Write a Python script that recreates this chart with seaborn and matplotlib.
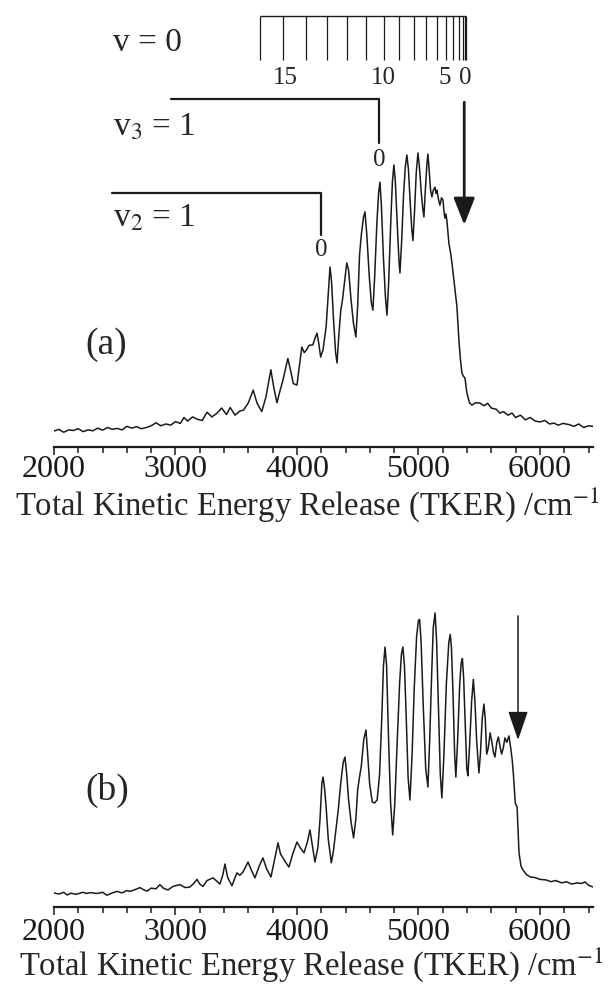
import matplotlib
matplotlib.use("Agg")
import matplotlib.pyplot as plt
from matplotlib.ticker import MultipleLocator
import seaborn as sns

# ── Data (arbitrary intensity units) ──────────────────────────────────
tker_a = [2000, 2040, 2080, 2120, 2160, 2200, 2240, 2280, 2320, 2360, 2400, 2440,
          2480, 2520, 2560, 2600, 2640, 2680, 2720, 2760, 2800, 2840, 2880, 2920,
          2960, 3000, 3040, 3070, 3100, 3140, 3180, 3220, 3260, 3300, 3340, 3380,
          3420, 3450, 3490, 3530, 3560, 3600, 3640, 3670, 3710, 3745, 3785, 3810,
          3835, 3860, 3885, 3925, 3950, 3970, 4000, 4040, 4060, 4080, 4100, 4130,
          4150, 4165, 4180, 4195, 4215, 4240, 4258, 4272, 4285, 4300, 4318, 4330,
          4345, 4360, 4375, 4392, 4410, 4425, 4445, 4465, 4485, 4500, 4515, 4530,
          4548, 4560, 4575, 4595, 4612, 4625, 4640, 4658, 4672, 4683, 4695, 4712,
          4728, 4741, 4755, 4772, 4786, 4798, 4810, 4825, 4840, 4848, 4862, 4878,
          4892, 4905, 4918, 4932, 4945, 4955, 4968, 4982, 4996, 5008, 5022, 5035,
          5045, 5058, 5070, 5078, 5088, 5100, 5111, 5122, 5136, 5145, 5152, 5165,
          5177, 5190, 5202, 5210, 5218, 5226, 5234, 5242, 5251, 5264, 5276, 5292,
          5305, 5317, 5333, 5345, 5358, 5370, 5383, 5399, 5420, 5440, 5470, 5506,
          5540, 5570, 5600, 5640, 5671, 5700, 5737, 5770, 5800, 5840, 5880, 5920,
          5960, 6000, 6040, 6080, 6115, 6150, 6190, 6240, 6280, 6320, 6360, 6400,
          6437]
int_a = [0.054, 0.060, 0.050, 0.058, 0.056, 0.062, 0.052, 0.058, 0.055, 0.064, 0.057, 0.066,
         0.060, 0.063, 0.058, 0.070, 0.064, 0.069, 0.062, 0.066, 0.072, 0.082, 0.072, 0.078,
         0.074, 0.086, 0.080, 0.100, 0.088, 0.102, 0.094, 0.090, 0.118, 0.102, 0.114, 0.132,
         0.110, 0.134, 0.108, 0.122, 0.125, 0.150, 0.193, 0.150, 0.120, 0.170, 0.262, 0.200,
         0.150, 0.190, 0.227, 0.300, 0.255, 0.215, 0.210, 0.339, 0.320, 0.330, 0.345, 0.346,
         0.370, 0.386, 0.350, 0.305, 0.330, 0.407, 0.520, 0.610, 0.560, 0.440, 0.320, 0.285,
         0.380, 0.460, 0.500, 0.560, 0.624, 0.600, 0.500, 0.420, 0.373, 0.480, 0.650, 0.720,
         0.780, 0.797, 0.720, 0.580, 0.490, 0.464, 0.580, 0.760, 0.860, 0.898, 0.820, 0.640,
         0.510, 0.447, 0.560, 0.760, 0.900, 0.956, 0.900, 0.760, 0.630, 0.590, 0.700, 0.860,
         0.950, 0.990, 0.940, 0.830, 0.740, 0.700, 0.800, 0.930, 0.997, 0.950, 0.870, 0.810,
         0.780, 0.880, 0.960, 0.993, 0.940, 0.870, 0.848, 0.870, 0.881, 0.860, 0.871, 0.840,
         0.820, 0.845, 0.837, 0.800, 0.776, 0.790, 0.769, 0.730, 0.690, 0.660, 0.624, 0.566,
         0.520, 0.475, 0.363, 0.300, 0.251, 0.240, 0.234, 0.183, 0.150, 0.142, 0.150, 0.149,
         0.140, 0.148, 0.132, 0.128, 0.115, 0.120, 0.108, 0.115, 0.100, 0.108, 0.092, 0.100,
         0.088, 0.085, 0.090, 0.078, 0.081, 0.074, 0.080, 0.076, 0.070, 0.078, 0.066, 0.072,
         0.070]

tker_b = [2000, 2040, 2080, 2107, 2140, 2180, 2239, 2270, 2300, 2354, 2400, 2436,
          2480, 2519, 2560, 2600, 2625, 2660, 2708, 2740, 2765, 2800, 2840, 2872,
          2900, 2938, 2980, 3037, 3080, 3119, 3150, 3177, 3200, 3226, 3260, 3309,
          3340, 3366, 3390, 3407, 3430, 3465, 3490, 3506, 3530, 3556, 3597, 3620,
          3654, 3690, 3720, 3750, 3786, 3815, 3844, 3865, 3885, 3910, 3934, 3965,
          4000, 4030, 4058, 4085, 4107, 4130, 4148, 4173, 4190, 4205, 4215, 4228,
          4240, 4258, 4283, 4300, 4321, 4340, 4360, 4380, 4395, 4410, 4425, 4445,
          4466, 4485, 4500, 4515, 4530, 4550, 4568, 4582, 4598, 4620, 4640, 4660,
          4680, 4698, 4712, 4725, 4738, 4752, 4770, 4788, 4805, 4825, 4845, 4860,
          4872, 4885, 4900, 4915, 4930, 4948, 4965, 4985, 5000, 5010, 5022, 5040,
          5060, 5078, 5092, 5108, 5122, 5137, 5150, 5165, 5180, 5193, 5210, 5230,
          5250, 5262, 5272, 5285, 5298, 5308, 5322, 5340, 5352, 5362, 5372, 5385,
          5398, 5407, 5420, 5438, 5452, 5465, 5480, 5498, 5510, 5525, 5539, 5550,
          5562, 5575, 5590, 5605, 5618, 5630, 5645, 5658, 5672, 5685, 5698, 5712,
          5728, 5745, 5760, 5772, 5782, 5797, 5812, 5828, 5844, 5860, 5890, 5923,
          5960, 6000, 6051, 6090, 6130, 6180, 6220, 6260, 6308, 6340, 6372, 6400,
          6437]
int_b = [0.048, 0.044, 0.050, 0.041, 0.047, 0.043, 0.050, 0.046, 0.049, 0.046, 0.050, 0.040,
         0.048, 0.053, 0.048, 0.056, 0.053, 0.058, 0.066, 0.058, 0.054, 0.064, 0.062, 0.076,
         0.064, 0.058, 0.070, 0.076, 0.066, 0.068, 0.080, 0.094, 0.078, 0.070, 0.090, 0.099,
         0.088, 0.078, 0.110, 0.146, 0.100, 0.072, 0.100, 0.116, 0.108, 0.119, 0.153, 0.130,
         0.099, 0.140, 0.167, 0.130, 0.102, 0.160, 0.218, 0.180, 0.167, 0.150, 0.136, 0.180,
         0.221, 0.200, 0.184, 0.220, 0.262, 0.200, 0.153, 0.204, 0.300, 0.420, 0.442, 0.400,
         0.340, 0.230, 0.150, 0.190, 0.262, 0.330, 0.420, 0.490, 0.510, 0.450, 0.364, 0.290,
         0.235, 0.300, 0.400, 0.442, 0.480, 0.570, 0.602, 0.520, 0.420, 0.357, 0.354, 0.364,
         0.450, 0.640, 0.820, 0.884, 0.820, 0.600, 0.360, 0.245, 0.350, 0.560, 0.760, 0.860,
         0.884, 0.820, 0.640, 0.440, 0.364, 0.520, 0.740, 0.920, 0.975, 0.978, 0.900, 0.680,
         0.470, 0.408, 0.560, 0.780, 0.950, 1.000, 0.900, 0.680, 0.450, 0.371, 0.520, 0.760,
         0.900, 0.927, 0.880, 0.720, 0.520, 0.442, 0.560, 0.760, 0.830, 0.845, 0.780, 0.620,
         0.470, 0.446, 0.540, 0.700, 0.774, 0.700, 0.560, 0.456, 0.520, 0.640, 0.690, 0.640,
         0.520, 0.540, 0.592, 0.560, 0.525, 0.510, 0.560, 0.578, 0.545, 0.520, 0.540, 0.575,
         0.560, 0.582, 0.540, 0.500, 0.450, 0.354, 0.340, 0.184, 0.140, 0.126, 0.110, 0.102,
         0.100, 0.094, 0.092, 0.086, 0.090, 0.082, 0.086, 0.078, 0.082, 0.080, 0.085, 0.074,
         0.068]

# rotational ladder for v = 0 and its labels
ladder_v0 = [3695, 3884, 4074, 4250, 4414, 4568, 4713, 4838, 4960, 5063, 5149,
             5223, 5287, 5335, 5365, 5381, 5392]
ladder_labels = ["15", "10", "5", "0"]
ladder_label_pos = [3905, 4710, 5215, 5385]
v3_start, v3_origin = 2963, 4677
v2_start, v2_origin = 2477, 4196
arrow_a = 5377
arrow_b = 5820
xticks = [2000, 3000, 4000, 5000, 6000]
xlabel = "Total Kinetic Energy Release (TKER) /cm$^{-1}$"

# ── Style ────────────────────────────────────────────────
sns.set_theme(style="white")
plt.rcParams["font.family"] = ["Liberation Serif", "DejaVu Serif"]
plt.rcParams["mathtext.fontset"] = "stix"

W, H = 609.0, 988.0
fig = plt.figure(figsize=(W / 100, H / 100), dpi=100)


def frame(left, right, bottom, top):
    # pixel box -> figure fraction
    return [left / W, 1 - bottom / H, (right - left) / W, (bottom - top) / H]


ax_a = fig.add_axes(frame(54, 593, 447, 4))
ax_b = fig.add_axes(frame(54, 593, 907, 600))


def style_axis(ax, ylim, pad):
    ax.set_xlim(2000, 6437)
    ax.set_ylim(*ylim)
    sns.despine(ax=ax, left=True, top=True, right=True)
    ax.spines["bottom"].set_linewidth(1.6)
    ax.spines["bottom"].set_color("k")
    ax.set_yticks([])
    ax.set_xticks(xticks)
    ax.xaxis.set_minor_locator(MultipleLocator(200))
    ax.tick_params(axis="x", which="both", direction="out", bottom=True,
                   color="k", width=1.1, labelsize=23, labelcolor="k", pad=pad)
    ax.tick_params(axis="x", which="major", length=5.5)
    ax.tick_params(axis="x", which="minor", length=4.5)
    ax.set_xlabel("")
    ax.set_ylabel("")
    ax.patch.set_alpha(0)


# ── Panel (a) ────────────────────────────────────────────
sns.lineplot(x=tker_a, y=int_a, ax=ax_a, color="k", lw=1.1, estimator=None)
style_axis(ax_a, (0, 1.502), pad=0.5)

ax_a.text(2486, 1.369, "v = 0", fontsize=24, ha="left", va="center")
ax_a.text(2486, 1.085, r"v$_3$ = 1", fontsize=24, ha="left", va="center")
ax_a.text(2486, 0.776, r"v$_2$ = 1", fontsize=24, ha="left", va="center")
ax_a.text(2428, 0.346, "(a)", fontsize=27, ha="center", va="center")

ax_a.hlines(1.461, ladder_v0[0], ladder_v0[-1], color="k", lw=1.0)
ax_a.vlines(ladder_v0, 1.312, 1.461, color="k", lw=0.9)
for lab, pos in zip(ladder_labels, ladder_label_pos):
    ax_a.text(pos, 1.251, lab, fontsize=18, ha="center", va="center")

ax_a.plot([v3_start, v3_origin, v3_origin], [1.18, 1.18, 1.03], color="k", lw=1.6)
ax_a.text(v3_origin, 0.973, "0", fontsize=18, ha="center", va="center")
ax_a.plot([v2_start, v2_origin, v2_origin], [0.861, 0.861, 0.719], color="k", lw=1.6)
ax_a.text(v2_origin, 0.668, "0", fontsize=18, ha="center", va="center")

ax_a.annotate("", xy=(arrow_a, 0.753), xytext=(arrow_a, 1.169),
              arrowprops=dict(arrowstyle="-|>,head_length=1.66,head_width=0.65",
                              color="k", lw=2.0, shrinkA=0, shrinkB=0,
                              mutation_scale=10))

# ── Panel (b) ────────────────────────────────────────────
sns.lineplot(x=tker_b, y=int_b, ax=ax_b, color="k", lw=1.1, estimator=None)
style_axis(ax_b, (0, 1.044), pad=2.5)
ax_b.text(2440, 0.398, "(b)", fontsize=27, ha="center", va="center")
ax_b.annotate("", xy=(arrow_b, 0.568), xytext=(arrow_b, 0.99),
              arrowprops=dict(arrowstyle="-|>,head_length=1.8,head_width=0.62",
                              color="k", lw=1.1, shrinkA=0, shrinkB=0,
                              mutation_scale=10))

# ── Axis titles ─────────────────────────────────────────
fig.text(307 / W, 1 - 505 / H, xlabel, fontsize=23.5, ha="center", va="center")
fig.text(311 / W, 1 - 965 / H, xlabel, fontsize=23.5, ha="center", va="center")

fig.savefig("out.png", dpi=100)
